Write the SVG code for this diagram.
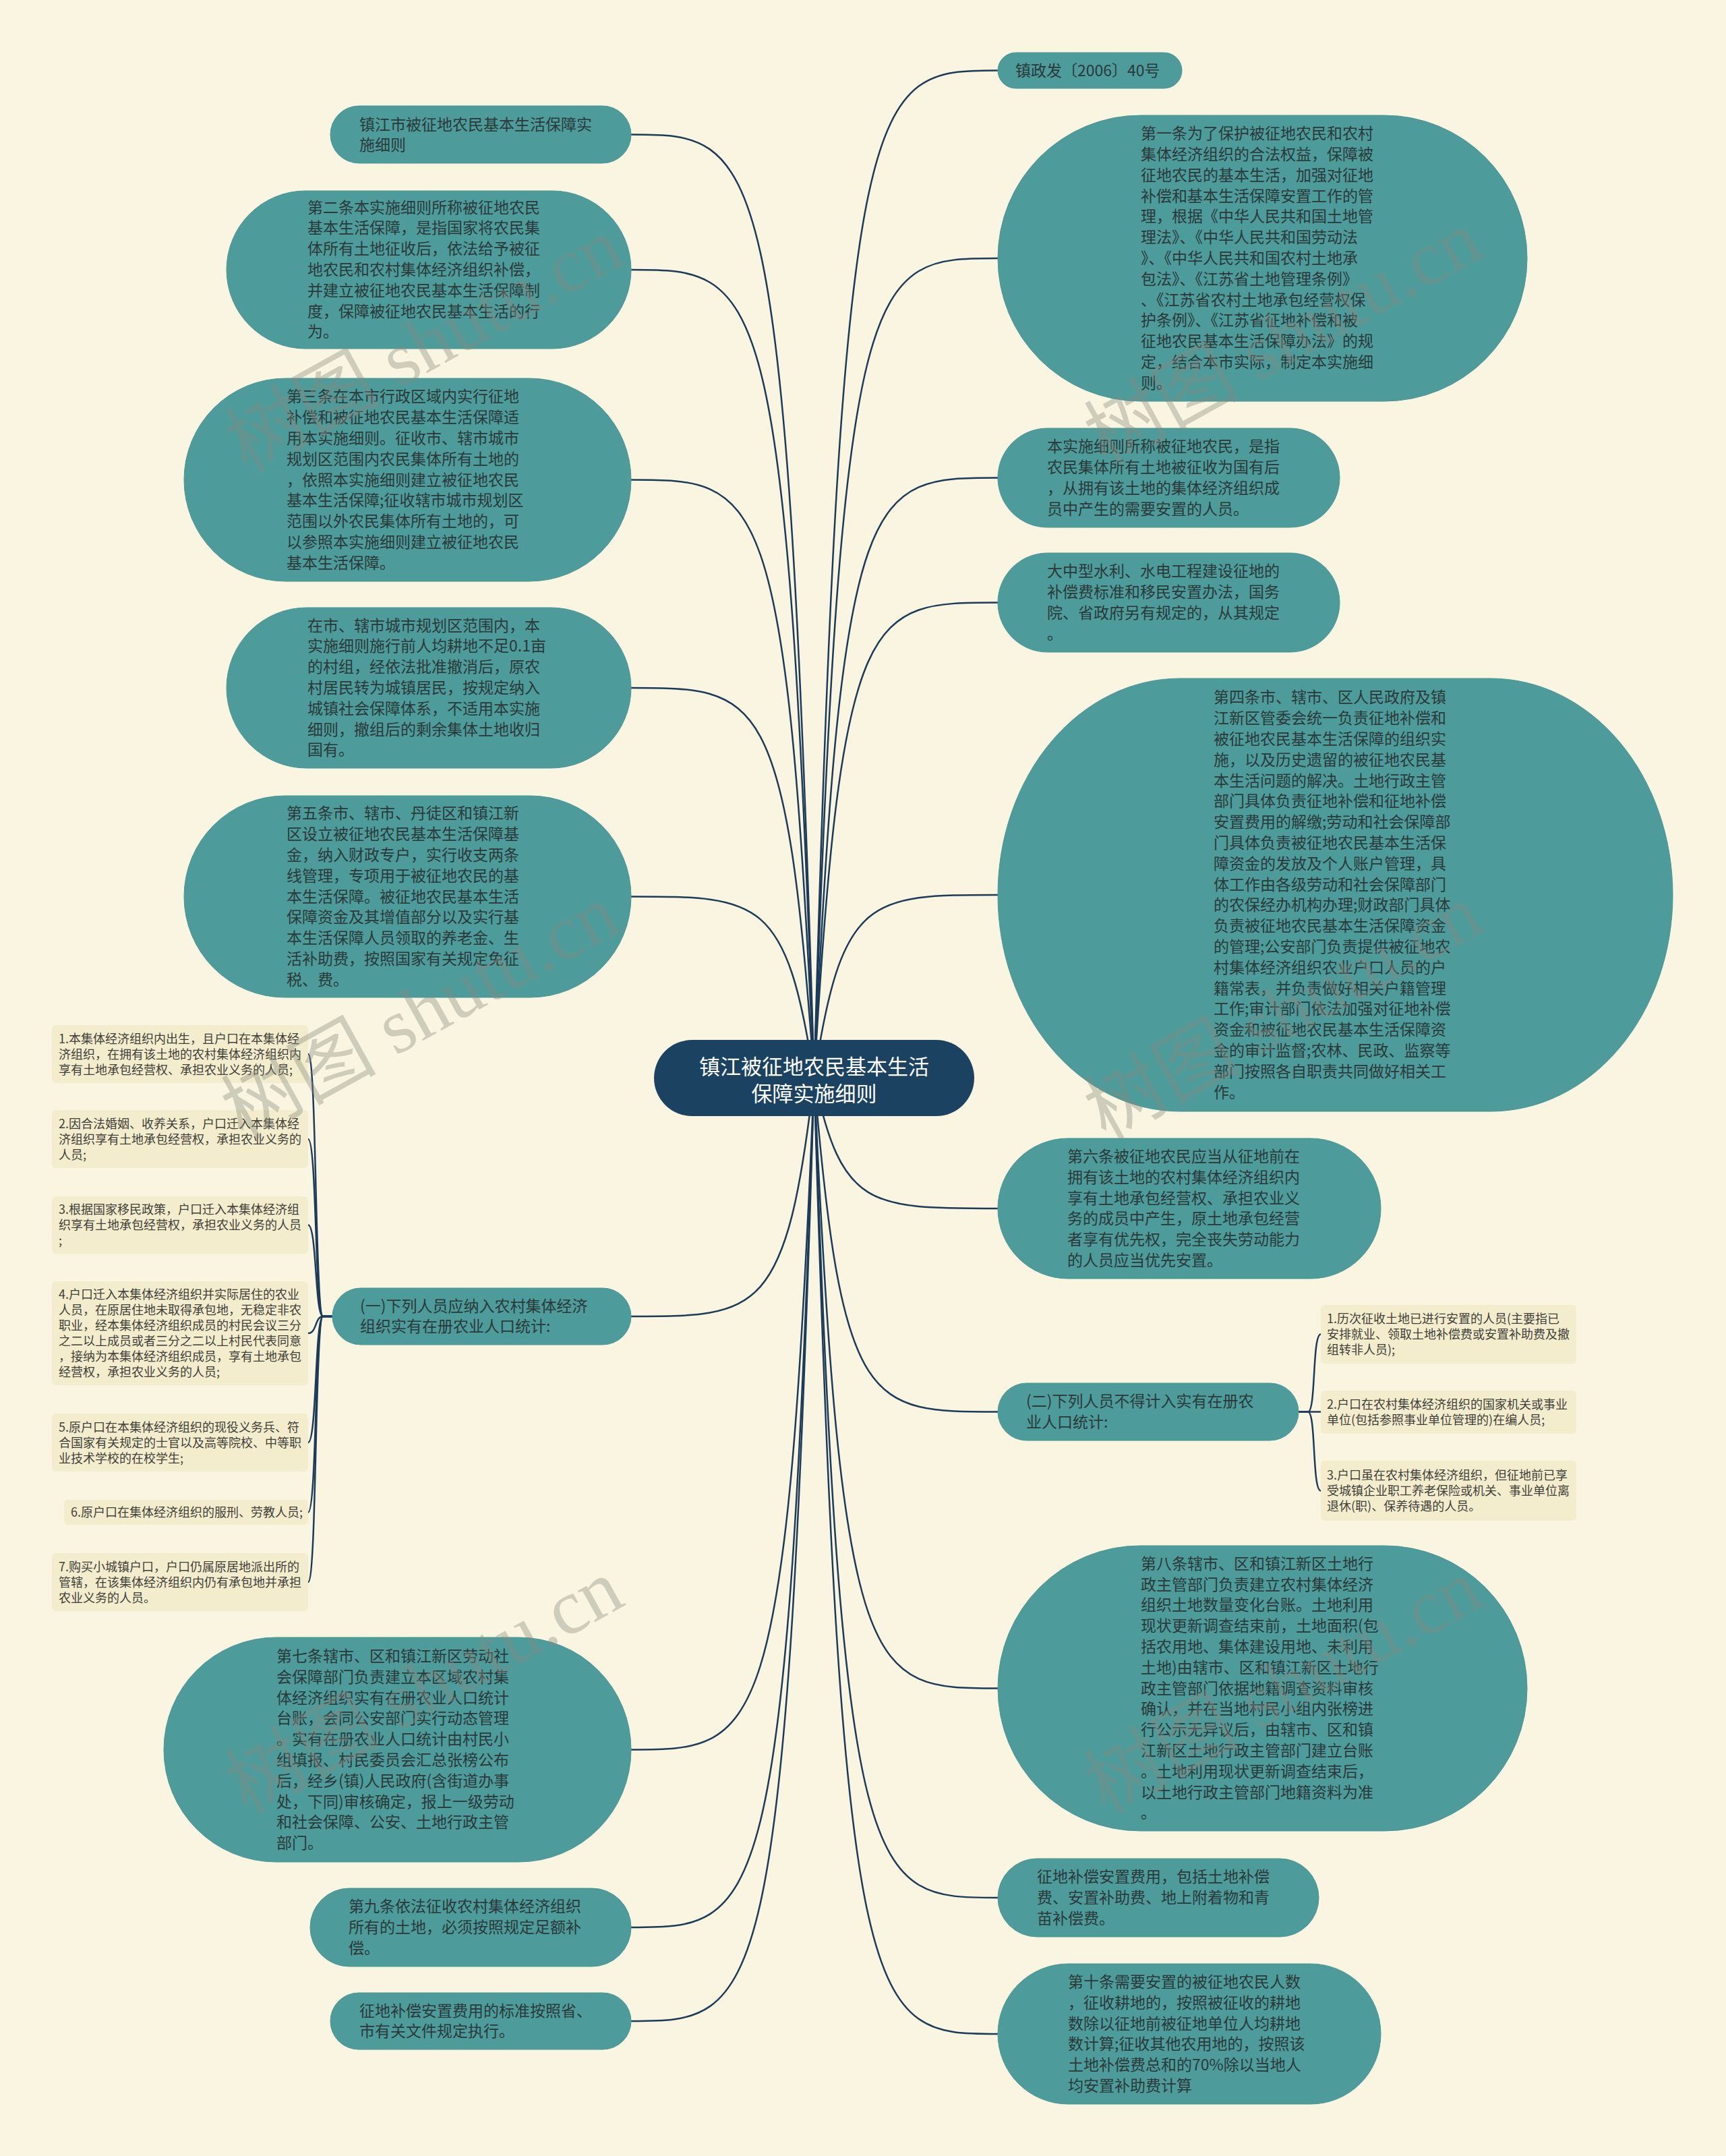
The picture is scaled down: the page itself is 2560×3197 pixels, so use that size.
<svg xmlns="http://www.w3.org/2000/svg" width="2560" height="3197" viewBox="0 0 2560 3197">
<style>
.bg{fill:#f9f5e1}
.n rect{fill:#4d9b9b;stroke:#4a9696;stroke-width:1}
.t{font-family:"Noto Sans CJK SC","Noto Sans",sans-serif;font-size:23px;fill:#2b3939}
.leaf rect{fill:#f3edcd}
.lt{font-family:"Noto Sans CJK SC","Noto Sans",sans-serif;font-size:18px;fill:#3f3f3a}
.conn path{fill:none;stroke:#1c3b5a;stroke-width:2.5}
.root rect{fill:#1c4261}
.rt{font-family:"Noto Sans CJK SC","Noto Sans",sans-serif;font-size:31px;fill:#ffffff;text-anchor:middle}
.wm{font-family:"Liberation Serif","Noto Sans CJK SC",serif;font-size:115px;fill:#8a8a80;opacity:0.38;text-anchor:middle}
</style>
<rect class="bg" x="0" y="0" width="2560" height="3197"/>

<g id="connectors" class="conn">
<path d="M1207.5 1598.5 C1248.4 104.5 1289.3 104.5 1480 104.5"/>
<path d="M1207.5 1598.5 C1248.4 383 1289.3 383 1480 383"/>
<path d="M1207.5 1598.5 C1248.4 708.5 1289.3 708.5 1480 708.5"/>
<path d="M1207.5 1598.5 C1248.4 893.5 1289.3 893.5 1480 893.5"/>
<path d="M1207.5 1598.5 C1248.4 1327 1289.3 1327 1480 1327"/>
<path d="M1207.5 1598.5 C1248.4 1792 1289.3 1792 1480 1792"/>
<path d="M1207.5 1598.5 C1248.4 2093.5 1289.3 2093.5 1480 2093.5"/>
<path d="M1207.5 1598.5 C1248.4 2503.5 1289.3 2503.5 1480 2503.5"/>
<path d="M1207.5 1598.5 C1248.4 2814 1289.3 2814 1480 2814"/>
<path d="M1207.5 1598.5 C1248.4 3016 1289.3 3016 1480 3016"/>
<path d="M1207.5 1598.5 C1166.8 199.5 1126 199.5 936 199.5"/>
<path d="M1207.5 1598.5 C1166.8 400 1126 400 936 400"/>
<path d="M1207.5 1598.5 C1166.8 711.5 1126 711.5 936 711.5"/>
<path d="M1207.5 1598.5 C1166.8 1020 1126 1020 936 1020"/>
<path d="M1207.5 1598.5 C1166.8 1329.5 1126 1329.5 936 1329.5"/>
<path d="M1207.5 1598.5 C1166.8 1952 1126 1952 936 1952"/>
<path d="M1207.5 1598.5 C1166.8 2594.5 1126 2594.5 936 2594.5"/>
<path d="M1207.5 1598.5 C1166.8 2858 1126 2858 936 2858"/>
<path d="M1207.5 1598.5 C1166.8 2997 1126 2997 936 2997"/>
<path d="M493 1952 L479 1952 C467 1952 470 1563 457 1563"/>
<path d="M493 1952 L479 1952 C467 1952 470 1689 457 1689"/>
<path d="M493 1952 L479 1952 C467 1952 470 1816.5 457 1816.5"/>
<path d="M493 1952 L479 1952 C467 1952 470 1977 457 1977"/>
<path d="M493 1952 L479 1952 C467 1952 470 2139 457 2139"/>
<path d="M493 1952 L479 1952 C467 1952 470 2242.5 457 2242.5"/>
<path d="M493 1952 L479 1952 C467 1952 470 2346 457 2346"/>
<path d="M1926 2093.5 L1940 2093.5 C1952 2093.5 1946 1978.5 1959 1978.5"/>
<path d="M1926 2093.5 L1959 2093.5"/>
<path d="M1926 2093.5 L1940 2093.5 C1952 2093.5 1946 2210.5 1959 2210.5"/>
</g>

<g id="root" class="root">
<rect x="970" y="1542" width="475" height="113" rx="56.5"/>
<text class="rt" x="1207.5" y="1593">镇江被征地农民基本生活</text>
<text class="rt" x="1207.5" y="1633">保障实施细则</text>
</g>

<g id="node-a" class="n">
<rect x="490" y="157" width="446" height="85" rx="42.5"/>
<text class="t" x="533" y="192.6"><tspan x="533">镇江市被征地农民基本生活保障实</tspan><tspan x="533" dy="30.8">施细则</tspan></text>
</g>

<g id="node-b" class="n">
<rect x="336" y="283" width="600" height="234" rx="117"/>
<text class="t" x="456" y="315.6"><tspan x="456">第二条本实施细则所称被征地农民</tspan><tspan x="456" dy="30.8">基本生活保障，是指国家将农民集</tspan><tspan x="456" dy="30.8">体所有土地征收后，依法给予被征</tspan><tspan x="456" dy="30.8">地农民和农村集体经济组织补偿，</tspan><tspan x="456" dy="30.8">并建立被征地农民基本生活保障制</tspan><tspan x="456" dy="30.8">度，保障被征地农民基本生活的行</tspan><tspan x="456" dy="30.8">为。</tspan></text>
</g>

<g id="node-c" class="n">
<rect x="273" y="561" width="663" height="301" rx="150.5"/>
<text class="t" x="425" y="596.3"><tspan x="425">第三条在本市行政区域内实行征地</tspan><tspan x="425" dy="30.8">补偿和被征地农民基本生活保障适</tspan><tspan x="425" dy="30.8">用本实施细则。征收市、辖市城市</tspan><tspan x="425" dy="30.8">规划区范围内农民集体所有土地的</tspan><tspan x="425" dy="30.8">，依照本实施细则建立被征地农民</tspan><tspan x="425" dy="30.8">基本生活保障;征收辖市城市规划区</tspan><tspan x="425" dy="30.8">范围以外农民集体所有土地的，可</tspan><tspan x="425" dy="30.8">以参照本实施细则建立被征地农民</tspan><tspan x="425" dy="30.8">基本生活保障。</tspan></text>
</g>

<g id="node-d" class="n">
<rect x="336" y="901" width="600" height="238" rx="119"/>
<text class="t" x="456" y="935.6"><tspan x="456">在市、辖市城市规划区范围内，本</tspan><tspan x="456" dy="30.8">实施细则施行前人均耕地不足0.1亩</tspan><tspan x="456" dy="30.8">的村组，经依法批准撤消后，原农</tspan><tspan x="456" dy="30.8">村居民转为城镇居民，按规定纳入</tspan><tspan x="456" dy="30.8">城镇社会保障体系，不适用本实施</tspan><tspan x="456" dy="30.8">细则，撤组后的剩余集体土地收归</tspan><tspan x="456" dy="30.8">国有。</tspan></text>
</g>

<g id="node-e" class="n">
<rect x="273" y="1180" width="663" height="299" rx="149.5"/>
<text class="t" x="425" y="1214.3"><tspan x="425">第五条市、辖市、丹徒区和镇江新</tspan><tspan x="425" dy="30.8">区设立被征地农民基本生活保障基</tspan><tspan x="425" dy="30.8">金，纳入财政专户，实行收支两条</tspan><tspan x="425" dy="30.8">线管理，专项用于被征地农民的基</tspan><tspan x="425" dy="30.8">本生活保障。被征地农民基本生活</tspan><tspan x="425" dy="30.8">保障资金及其增值部分以及实行基</tspan><tspan x="425" dy="30.8">本生活保障人员领取的养老金、生</tspan><tspan x="425" dy="30.8">活补助费，按照国家有关规定免征</tspan><tspan x="425" dy="30.8">税、费。</tspan></text>
</g>

<g id="node-f" class="n">
<rect x="493" y="1910" width="443" height="84" rx="42"/>
<text class="t" x="534" y="1944.6"><tspan x="534">(一)下列人员应纳入农村集体经济</tspan><tspan x="534" dy="30.8">组织实有在册农业人口统计:</tspan></text>
</g>

<g id="leaf-l1" class="leaf">
<rect x="77" y="1520" width="380" height="86" rx="6"/>
<text class="lt" x="87" y="1546.5"><tspan x="87">1.本集体经济组织内出生，且户口在本集体经</tspan><tspan x="87" dy="23">济组织，在拥有该土地的农村集体经济组织内</tspan><tspan x="87" dy="23">享有土地承包经营权、承担农业义务的人员;</tspan></text>
</g>
<g id="leaf-l2" class="leaf">
<rect x="77" y="1646" width="380" height="86" rx="6"/>
<text class="lt" x="87" y="1672.5"><tspan x="87">2.因合法婚姻、收养关系，户口迁入本集体经</tspan><tspan x="87" dy="23">济组织享有土地承包经营权，承担农业义务的</tspan><tspan x="87" dy="23">人员;</tspan></text>
</g>
<g id="leaf-l3" class="leaf">
<rect x="77" y="1774" width="380" height="85" rx="6"/>
<text class="lt" x="87" y="1800"><tspan x="87">3.根据国家移民政策，户口迁入本集体经济组</tspan><tspan x="87" dy="23">织享有土地承包经营权，承担农业义务的人员</tspan><tspan x="87" dy="23">;</tspan></text>
</g>
<g id="leaf-l4" class="leaf">
<rect x="77" y="1900" width="380" height="154" rx="6"/>
<text class="lt" x="87" y="1926"><tspan x="87">4.户口迁入本集体经济组织并实际居住的农业</tspan><tspan x="87" dy="23">人员，在原居住地未取得承包地，无稳定非农</tspan><tspan x="87" dy="23">职业，经本集体经济组织成员的村民会议三分</tspan><tspan x="87" dy="23">之二以上成员或者三分之二以上村民代表同意</tspan><tspan x="87" dy="23">，接纳为本集体经济组织成员，享有土地承包</tspan><tspan x="87" dy="23">经营权，承担农业义务的人员;</tspan></text>
</g>
<g id="leaf-l5" class="leaf">
<rect x="77" y="2096" width="380" height="86" rx="6"/>
<text class="lt" x="87" y="2122.5"><tspan x="87">5.原户口在本集体经济组织的现役义务兵、符</tspan><tspan x="87" dy="23">合国家有关规定的士官以及高等院校、中等职</tspan><tspan x="87" dy="23">业技术学校的在校学生;</tspan></text>
</g>
<g id="leaf-l6" class="leaf">
<rect x="95" y="2224" width="362" height="37" rx="6"/>
<text class="lt" x="105" y="2249">6.原户口在集体经济组织的服刑、劳教人员;</text>
</g>
<g id="leaf-l7" class="leaf">
<rect x="77" y="2303" width="380" height="86" rx="6"/>
<text class="lt" x="87" y="2329.5"><tspan x="87">7.购买小城镇户口，户口仍属原居地派出所的</tspan><tspan x="87" dy="23">管辖，在该集体经济组织内仍有承包地并承担</tspan><tspan x="87" dy="23">农业义务的人员。</tspan></text>
</g>

<g id="node-g" class="n">
<rect x="243" y="2428" width="693" height="333" rx="166.5"/>
<text class="t" x="410" y="2463.9"><tspan x="410">第七条辖市、区和镇江新区劳动社</tspan><tspan x="410" dy="30.8">会保障部门负责建立本区域农村集</tspan><tspan x="410" dy="30.8">体经济组织实有在册农业人口统计</tspan><tspan x="410" dy="30.8">台账，会同公安部门实行动态管理</tspan><tspan x="410" dy="30.8">。实有在册农业人口统计由村民小</tspan><tspan x="410" dy="30.8">组填报、村民委员会汇总张榜公布</tspan><tspan x="410" dy="30.8">后，经乡(镇)人民政府(含街道办事</tspan><tspan x="410" dy="30.8">处，下同)审核确定，报上一级劳动</tspan><tspan x="410" dy="30.8">和社会保障、公安、土地行政主管</tspan><tspan x="410" dy="30.8">部门。</tspan></text>
</g>

<g id="node-h" class="n">
<rect x="460" y="2800" width="476" height="116" rx="58"/>
<text class="t" x="517" y="2835.2"><tspan x="517">第九条依法征收农村集体经济组织</tspan><tspan x="517" dy="30.8">所有的土地，必须按照规定足额补</tspan><tspan x="517" dy="30.8">偿。</tspan></text>
</g>

<g id="node-i" class="n">
<rect x="490" y="2955" width="446" height="84" rx="42"/>
<text class="t" x="533" y="2989.6"><tspan x="533">征地补偿安置费用的标准按照省、</tspan><tspan x="533" dy="30.8">市有关文件规定执行。</tspan></text>
</g>

<g id="node-ra" class="n">
<rect x="1480" y="78" width="273" height="53" rx="26.5"/>
<text class="t" x="1506" y="112.5">镇政发〔2006〕40号</text>
</g>

<g id="node-rb" class="n">
<rect x="1480" y="171" width="785" height="424" rx="212"/>
<text class="t" x="1692" y="206.2"><tspan x="1692">第一条为了保护被征地农民和农村</tspan><tspan x="1692" dy="30.8">集体经济组织的合法权益，保障被</tspan><tspan x="1692" dy="30.8">征地农民的基本生活，加强对征地</tspan><tspan x="1692" dy="30.8">补偿和基本生活保障安置工作的管</tspan><tspan x="1692" dy="30.8">理，根据《中华人民共和国土地管</tspan><tspan x="1692" dy="30.8">理法》、《中华人民共和国劳动法</tspan><tspan x="1692" dy="30.8">》、《中华人民共和国农村土地承</tspan><tspan x="1692" dy="30.8">包法》、《江苏省土地管理条例》</tspan><tspan x="1692" dy="30.8">、《江苏省农村土地承包经营权保</tspan><tspan x="1692" dy="30.8">护条例》、《江苏省征地补偿和被</tspan><tspan x="1692" dy="30.8">征地农民基本生活保障办法》的规</tspan><tspan x="1692" dy="30.8">定，结合本市实际，制定本实施细</tspan><tspan x="1692" dy="30.8">则。</tspan></text>
</g>

<g id="node-rc" class="n">
<rect x="1480" y="635" width="507" height="147" rx="73.5"/>
<text class="t" x="1553" y="670.3"><tspan x="1553">本实施细则所称被征地农民，是指</tspan><tspan x="1553" dy="30.8">农民集体所有土地被征收为国有后</tspan><tspan x="1553" dy="30.8">，从拥有该土地的集体经济组织成</tspan><tspan x="1553" dy="30.8">员中产生的需要安置的人员。</tspan></text>
</g>

<g id="node-rd" class="n">
<rect x="1480" y="820" width="507" height="147" rx="73.5"/>
<text class="t" x="1553" y="855.3"><tspan x="1553">大中型水利、水电工程建设征地的</tspan><tspan x="1553" dy="30.8">补偿费标准和移民安置办法，国务</tspan><tspan x="1553" dy="30.8">院、省政府另有规定的，从其规定</tspan><tspan x="1553" dy="30.8">。</tspan></text>
</g>

<g id="node-re" class="n">
<rect x="1480" y="1006" width="1001" height="642" rx="270" ry="321"/>
<text class="t" x="1800" y="1042.4"><tspan x="1800">第四条市、辖市、区人民政府及镇</tspan><tspan x="1800" dy="30.8">江新区管委会统一负责征地补偿和</tspan><tspan x="1800" dy="30.8">被征地农民基本生活保障的组织实</tspan><tspan x="1800" dy="30.8">施，以及历史遗留的被征地农民基</tspan><tspan x="1800" dy="30.8">本生活问题的解决。土地行政主管</tspan><tspan x="1800" dy="30.8">部门具体负责征地补偿和征地补偿</tspan><tspan x="1800" dy="30.8">安置费用的解缴;劳动和社会保障部</tspan><tspan x="1800" dy="30.8">门具体负责被征地农民基本生活保</tspan><tspan x="1800" dy="30.8">障资金的发放及个人账户管理，具</tspan><tspan x="1800" dy="30.8">体工作由各级劳动和社会保障部门</tspan><tspan x="1800" dy="30.8">的农保经办机构办理;财政部门具体</tspan><tspan x="1800" dy="30.8">负责被征地农民基本生活保障资金</tspan><tspan x="1800" dy="30.8">的管理;公安部门负责提供被征地农</tspan><tspan x="1800" dy="30.8">村集体经济组织农业户口人员的户</tspan><tspan x="1800" dy="30.8">籍常表，并负责做好相关户籍管理</tspan><tspan x="1800" dy="30.8">工作;审计部门依法加强对征地补偿</tspan><tspan x="1800" dy="30.8">资金和被征地农民基本生活保障资</tspan><tspan x="1800" dy="30.8">金的审计监督;农林、民政、监察等</tspan><tspan x="1800" dy="30.8">部门按照各自职责共同做好相关工</tspan><tspan x="1800" dy="30.8">作。</tspan></text>
</g>

<g id="node-rf" class="n">
<rect x="1480" y="1688" width="568" height="208" rx="104"/>
<text class="t" x="1583" y="1723"><tspan x="1583">第六条被征地农民应当从征地前在</tspan><tspan x="1583" dy="30.8">拥有该土地的农村集体经济组织内</tspan><tspan x="1583" dy="30.8">享有土地承包经营权、承担农业义</tspan><tspan x="1583" dy="30.8">务的成员中产生，原土地承包经营</tspan><tspan x="1583" dy="30.8">者享有优先权，完全丧失劳动能力</tspan><tspan x="1583" dy="30.8">的人员应当优先安置。</tspan></text>
</g>

<g id="node-rg" class="n">
<rect x="1480" y="2051" width="446" height="85" rx="42.5"/>
<text class="t" x="1522" y="2086.1"><tspan x="1522">(二)下列人员不得计入实有在册农</tspan><tspan x="1522" dy="30.8">业人口统计:</tspan></text>
</g>

<g id="leaf-r1" class="leaf">
<rect x="1959" y="1935" width="379" height="87" rx="6"/>
<text class="lt" x="1968" y="1962"><tspan x="1968">1.历次征收土地已进行安置的人员(主要指已</tspan><tspan x="1968" dy="23">安排就业、领取土地补偿费或安置补助费及撤</tspan><tspan x="1968" dy="23">组转非人员);</tspan></text>
</g>
<g id="leaf-r2" class="leaf">
<rect x="1959" y="2062" width="379" height="64" rx="6"/>
<text class="lt" x="1968" y="2089"><tspan x="1968">2.户口在农村集体经济组织的国家机关或事业</tspan><tspan x="1968" dy="23">单位(包括参照事业单位管理的)在编人员;</tspan></text>
</g>
<g id="leaf-r3" class="leaf">
<rect x="1959" y="2166" width="379" height="89" rx="6"/>
<text class="lt" x="1968" y="2194"><tspan x="1968">3.户口虽在农村集体经济组织，但征地前已享</tspan><tspan x="1968" dy="23">受城镇企业职工养老保险或机关、事业单位离</tspan><tspan x="1968" dy="23">退休(职)、保养待遇的人员。</tspan></text>
</g>

<g id="node-rh" class="n">
<rect x="1480" y="2292" width="785" height="423" rx="211.5"/>
<text class="t" x="1692" y="2326.7"><tspan x="1692">第八条辖市、区和镇江新区土地行</tspan><tspan x="1692" dy="30.8">政主管部门负责建立农村集体经济</tspan><tspan x="1692" dy="30.8">组织土地数量变化台账。土地利用</tspan><tspan x="1692" dy="30.8">现状更新调查结束前，土地面积(包</tspan><tspan x="1692" dy="30.8">括农用地、集体建设用地、未利用</tspan><tspan x="1692" dy="30.8">土地)由辖市、区和镇江新区土地行</tspan><tspan x="1692" dy="30.8">政主管部门依据地籍调查资料审核</tspan><tspan x="1692" dy="30.8">确认，并在当地村民小组内张榜进</tspan><tspan x="1692" dy="30.8">行公示无异议后，由辖市、区和镇</tspan><tspan x="1692" dy="30.8">江新区土地行政主管部门建立台账</tspan><tspan x="1692" dy="30.8">。土地利用现状更新调查结束后，</tspan><tspan x="1692" dy="30.8">以土地行政主管部门地籍资料为准</tspan><tspan x="1692" dy="30.8">。</tspan></text>
</g>

<g id="node-ri" class="n">
<rect x="1480" y="2756" width="476" height="116" rx="58"/>
<text class="t" x="1538" y="2791.2"><tspan x="1538">征地补偿安置费用，包括土地补偿</tspan><tspan x="1538" dy="30.8">费、安置补助费、地上附着物和青</tspan><tspan x="1538" dy="30.8">苗补偿费。</tspan></text>
</g>

<g id="node-rj" class="n">
<rect x="1480" y="2912" width="568" height="208" rx="104"/>
<text class="t" x="1584" y="2947"><tspan x="1584">第十条需要安置的被征地农民人数</tspan><tspan x="1584" dy="30.8">，征收耕地的，按照被征收的耕地</tspan><tspan x="1584" dy="30.8">数除以征地前被征地单位人均耕地</tspan><tspan x="1584" dy="30.8">数计算;征收其他农用地的，按照该</tspan><tspan x="1584" dy="30.8">土地补偿费总和的70%除以当地人</tspan><tspan x="1584" dy="30.8">均安置补助费计算</tspan></text>
</g>

<g id="watermark">
<text class="wm" transform="translate(648 545) rotate(-29)">树图 shutu.cn</text>
<text class="wm" transform="translate(1922 535) rotate(-29)">树图 shutu.cn</text>
<text class="wm" transform="translate(642 1535) rotate(-29)">树图 shutu.cn</text>
<text class="wm" transform="translate(1922 1535) rotate(-29)">树图 shutu.cn</text>
<text class="wm" transform="translate(648 2535) rotate(-29)">树图 shutu.cn</text>
<text class="wm" transform="translate(1922 2535) rotate(-29)">树图 shutu.cn</text>
</g>
</svg>
